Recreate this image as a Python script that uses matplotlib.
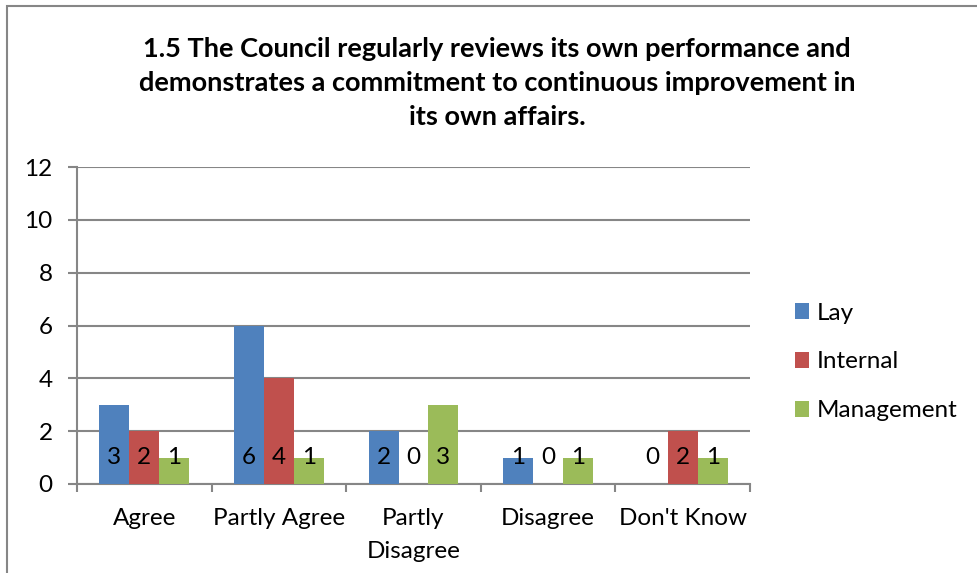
import numpy as np
import matplotlib.pyplot as plt
from matplotlib.patches import Rectangle

plt.rcParams['font.family'] = ['Lato', 'DejaVu Sans']

categories = ["Agree", "Partly Agree", "Partly\nDisagree", "Disagree", "Don't Know"]
series_names = ["Lay", "Internal", "Management"]
lay = [3, 6, 2, 1, 0]
internal = [2, 4, 0, 0, 2]
management = [1, 1, 3, 1, 1]
colours = ["#4F81BD", "#C0504D", "#9BBB59"]
title = ("1.5 The Council regularly reviews its own performance and\n"
         "demonstrates a commitment to continuous improvement in\n"
         "its own affairs.")

fig = plt.figure(figsize=(9.78, 5.73), dpi=100)
ax = fig.add_axes([77/978, 1-484/573, (750-77)/978, (484-167)/573])

# chart border (only top/left visible in the crop)
fig.patches.append(Rectangle((7/978, -0.1), 1.2, 1-6/573+0.1, transform=fig.transFigure,
                             fill=False, edgecolor="#868686", lw=1.5))

x = np.arange(len(categories))
w = 1/4.5
for i, (vals, col) in enumerate(zip([lay, internal, management], colours)):
    pos = x + (i-1)*w
    ax.bar(pos, vals, width=w, color=col, label=series_names[i], zorder=3)
    for p, v in zip(pos, vals):
        ax.text(p, 1.0, str(v), ha="center", va="center", fontsize=17.5, zorder=4)

ax.set_xlim(-0.5, len(categories)-0.5)
ax.set_ylim(0, 12)
ax.set_yticks(range(0, 13, 2))
ax.set_xticks(np.arange(-0.5, len(categories)), minor=False)
ax.set_xticklabels([])
ax.set_xticks(x, minor=True)
ax.set_xticklabels(categories, minor=True, fontsize=17.5, linespacing=1.7)
ax.tick_params(axis="x", which="minor", length=0, pad=17)
ax.tick_params(axis="x", which="major", length=6, width=1.5, color="#868686")
ax.tick_params(axis="y", length=6.5, width=1.5, color="#868686", labelsize=17.5, pad=11)
ax.yaxis.grid(True, color="#868686", lw=1.5, zorder=0)
for s in ["top", "right"]:
    ax.spines[s].set_visible(False)
for s in ["left", "bottom"]:
    ax.spines[s].set_color("#868686")
    ax.spines[s].set_linewidth(1.5)

fig.text(497/978, 1-83/573, title, ha="center", va="center", fontsize=19.5,
         fontweight="bold", linespacing=1.5)

ax.legend(loc="center left", bbox_to_anchor=(785/978, 1-362/573), bbox_transform=fig.transFigure,
          frameon=False, fontsize=17.5, handlelength=0.6, handleheight=0.6,
          handletextpad=0.3, labelspacing=1.15, borderaxespad=0)

fig.savefig("out.png", dpi=100)
